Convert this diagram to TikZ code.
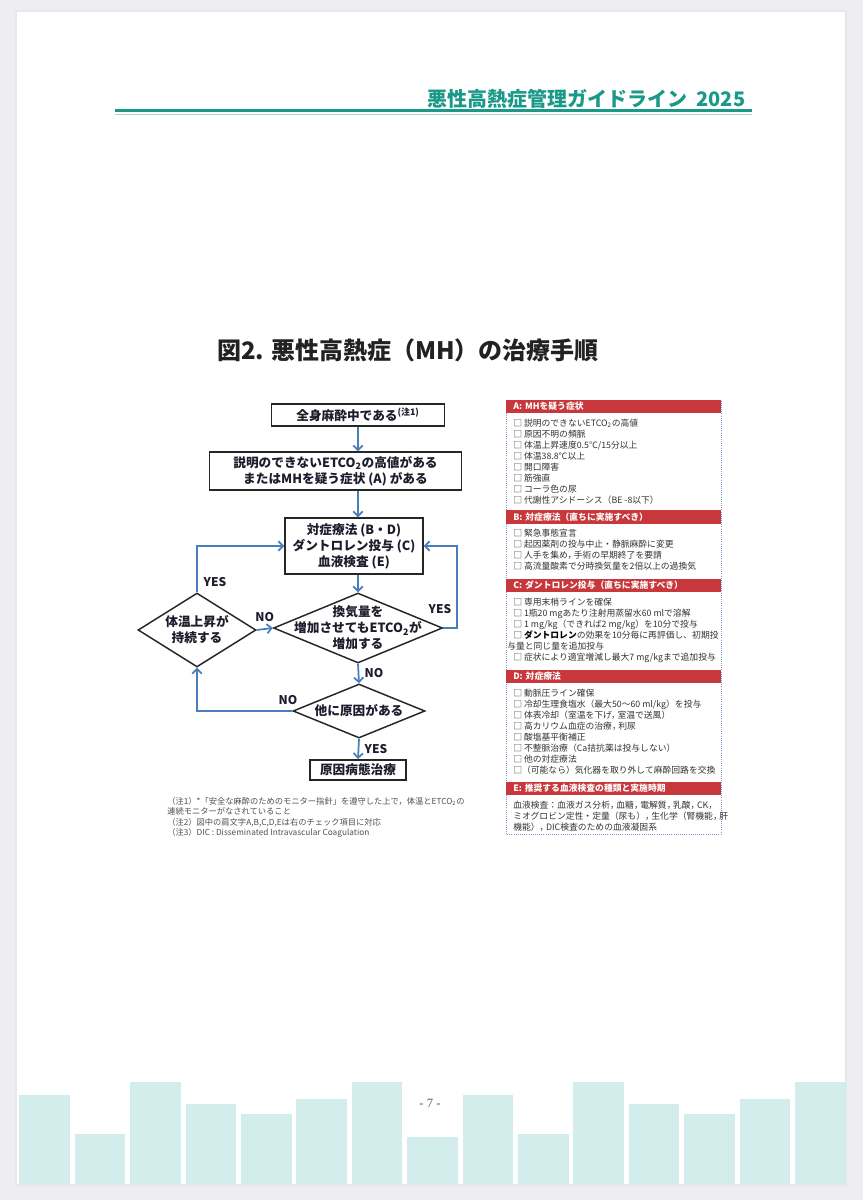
\documentclass[tikz,border=0pt]{standalone}
\usepackage{fontspec}
\setmainfont{Noto Sans CJK JP}
\newfontfamily\numfont{Liberation Serif}
\usepackage{xcolor}
\usepackage{tikz}
\usetikzlibrary{shapes.geometric, arrows.meta, positioning}

\definecolor{deskgray}{HTML}{EDEDF2}
\definecolor{runteal}{HTML}{1A9988}
\definecolor{rulelight}{HTML}{9ED9D1}
\definecolor{barteal}{HTML}{D3EDEC}
\definecolor{titleink}{HTML}{222222}
\definecolor{ink}{HTML}{1C1C2C}
\definecolor{boxline}{HTML}{262626}
\definecolor{arrowblue}{HTML}{4A7EBB}
\definecolor{headred}{HTML}{C8373B}
\definecolor{paneldot}{HTML}{7C9BCB}
\definecolor{notegray}{HTML}{505050}
\definecolor{itemgray}{HTML}{333333}

\newcommand{\flowfont}{\bfseries\fontsize{9.5}{12}\selectfont}
\newcommand{\jcomma}{，\hspace{-0.28em}}

\tikzstyle{flowbox} = [rectangle, draw=boxline, line width=1.1pt, fill=white, align=center, inner sep=0pt, font=\flowfont, text=ink]
\tikzstyle{decision} = [diamond, draw=boxline, line width=1.1pt, fill=white, inner sep=0pt]
\tikzstyle{dectext} = [align=center, inner sep=0pt, font=\flowfont, text=ink]
\tikzstyle{flowarrow} = [line width=1.3pt, draw=arrowblue, -{Straight Barb[length=3.5pt, width=7pt]}]
\tikzstyle{answer} = [inner sep=1pt, font=\bfseries\fontsize{9}{10}\selectfont, text=ink]
\tikzstyle{panelhead} = [rectangle, anchor=north west, fill=headred, text=white, text width=150.75pt, align=left, inner xsep=5.25pt, inner ysep=0pt, minimum height=10.1pt, font=\bfseries\fontsize{6.6}{8}\selectfont]
\tikzstyle{panelitem} = [align=left, inner sep=0pt, text=itemgray, font=\fontsize{6.6}{8.3}\selectfont]

\begin{document}
\begin{tikzpicture}[x=0.75pt, y=-0.75pt]
  \useasboundingbox (0,0) rectangle (863,1200);
  % page
  \fill[deskgray] (0,0) rectangle (863,1200);
  \fill[black!9] (15,10) rectangle (847,1187);
  \fill[white] (17,12) rectangle (845,1184);
  \foreach \top [count=\i] in {1095,1134,1082,1104,1114,1099,1082,1137,1095,1134,1082,1104,1114,1099,1082}
    \fill[barteal] ({19.3+55.4*(\i-1)},\top) rectangle ++(50.6,1184-\top);
  \node[font=\numfont\fontsize{9.5}{10}\selectfont, text=black!65] (pageno) at (430,1103) {- 7 -};

  % running head
  \node[anchor=base east, text=runteal, font=\bfseries\fontsize{15}{18}\selectfont] (runhead) at (750,106) {悪性高熱症管理ガイドライン\hspace{0.45em}2025};
  \draw[runteal, line width=1.6pt] (115,110.5) -- (752,110.5);
  \draw[rulelight, line width=0.8pt] (115,114.5) -- (752,114.5);

  \node[font=\bfseries\fontsize{18}{22}\selectfont, text=titleink] (title) at (408,350) {図2. 悪性高熱症（MH）の治療手順};

  % flowchart
  \coordinate (spine) at (358,0);
  \node[flowbox, minimum width=129.75pt, minimum height=16.5pt] (start) at (358,415) {全身麻酔中である\textsuperscript{(注1)}};
  \node[flowbox, minimum width=189pt, minimum height=28.5pt] (suspect) at (335.5,471) {説明のできないETCO\textsubscript{2}の高値がある\\またはMHを疑う症状 (A) がある};
  \node[flowbox, minimum width=103.5pt, minimum height=42pt] (treat) at (354,546) {対症療法 (B・D)\\ダントロレン投与 (C)\\血液検査 (E)};
  \node[decision, minimum width=126.75pt, minimum height=52.5pt, label={[dectext]center:{換気量を\\増加させてもETCO\textsubscript{2}が\\増加する}}] (vent) at (358,628) {};
  \node[decision, minimum width=88.5pt, minimum height=55.5pt, label={[dectext]center:{体温上昇が\\持続する}}] (rise) at (197,630) {};
  \node[decision, minimum width=99pt, minimum height=40.5pt, label={[dectext]center:{他に原因がある}}] (other) at (359,711) {};
  \node[flowbox, line width=1.4pt, minimum width=72pt, minimum height=15pt] (cause) at (358,770) {原因病態治療};

  \draw[flowarrow] (start.south) -- (start.south |- suspect.north);
  \draw[flowarrow] (spine |- suspect.south) -- (spine |- treat.north);
  \draw[flowarrow] (spine |- treat.south) -- (vent.north);
  \draw[flowarrow] (vent.south) -- node[answer, right=3pt] (nodown) {NO} (other.north);
  \draw[flowarrow] (other.south) -- node[answer, right=3pt] (yesdown) {YES} (cause.north);
  \draw[flowarrow] (vent.east) -- ++(14,0) |- (treat.east);
  \draw[flowarrow] (rise.north) |- (treat.west);
  \draw[flowarrow] (rise.east) -- node[answer, above=4pt] (noacross) {NO} (vent.west);
  \draw[flowarrow] (other.west) -| (rise.south);
  \node[answer] (yesright) at (440,609) {YES};
  \node[answer] (yesleft) at (215,582) {YES};
  \node[answer] (noback) at (288,700) {NO};

  \node[anchor=north west, align=left, inner sep=0pt, text=notegray, font=\fontsize{6.2}{7.9}\selectfont] (notes) at (167,797) {（注1）*「安全な麻酔のためのモニター指針」を遵守した上で，体温とETCO\textsubscript{2}の\\連続モニターがなされていること\\（注2）図中の肩文字A,B,C,D,Eは右のチェック項目に対応\\（注3）DIC : Disseminated Intravascular Coagulation};

  % check list
  \draw[paneldot, line width=0.6pt, densely dotted] (506,400) rectangle (721,834);
  \node[panelhead] (headA) at (506,399.5) {A: MHを疑う症状};
  \node[panelitem, below right=3.8pt and 5.25pt of headA.south west] (listA) {□ 説明のできないETCO\textsubscript{2}の高値\\□ 原因不明の頻脈\\□ 体温上昇速度0.5℃/15分以上\\□ 体温38.8℃以上\\□ 開口障害\\□ 筋強直\\□ コーラ色の尿\\□ 代謝性アシドーシス（BE -8以下）};
  \node[panelhead] (headB) at (506,510) {B: 対症療法（直ちに実施すべき）};
  \node[panelitem, below right=3.8pt and 5.25pt of headB.south west] (listB) {□ 緊急事態宣言\\□ 起因薬剤の投与中止・静脈麻酔に変更\\□ 人手を集め\jcomma 手術の早期終了を要請\\□ 高流量酸素で分時換気量を2倍以上の過換気};
  \node[panelhead] (headC) at (506,578.5) {C: ダントロレン投与（直ちに実施すべき）};
  \node[panelitem, below right=3.8pt and 5.25pt of headC.south west] (listC) {□ 専用末梢ラインを確保\\□ 1瓶20 mgあたり注射用蒸留水60 mlで溶解\\□ 1 mg/kg（できれば2 mg/kg）を10分で投与\\□ {\bfseries\color{black}ダントロレン}の効果を10分毎に再評価し、初期投\\\hspace*{-4.5pt}与量と同じ量を追加投与\\□ 症状により適宜増減し最大7 mg/kgまで追加投与};
  \node[panelhead] (headD) at (506,669.5) {D: 対症療法};
  \node[panelitem, below right=3.8pt and 5.25pt of headD.south west] (listD) {□ 動脈圧ライン確保\\□ 冷却生理食塩水（最大50〜60 ml/kg）を投与\\□ 体表冷却（室温を下げ\jcomma 室温で送風）\\□ 高カリウム血症の治療\jcomma 利尿\\□ 酸塩基平衡補正\\□ 不整脈治療（Ca拮抗薬は投与しない）\\□ 他の対症療法\\□（可能なら）気化器を取り外して麻酔回路を交換};
  \node[panelhead] (headE) at (506,781.5) {E: 推奨する血液検査の種類と実施時期};
  \node[panelitem, below right=3.8pt and 5.25pt of headE.south west] (listE) {血液検査：血液ガス分析\jcomma 血糖\jcomma 電解質\jcomma 乳酸\jcomma CK\jcomma\\ミオグロビン定性・定量（尿も）\jcomma 生化学（腎機能\jcomma 肝\\機能）\jcomma DIC検査のための血液凝固系};
\end{tikzpicture}
\end{document}
